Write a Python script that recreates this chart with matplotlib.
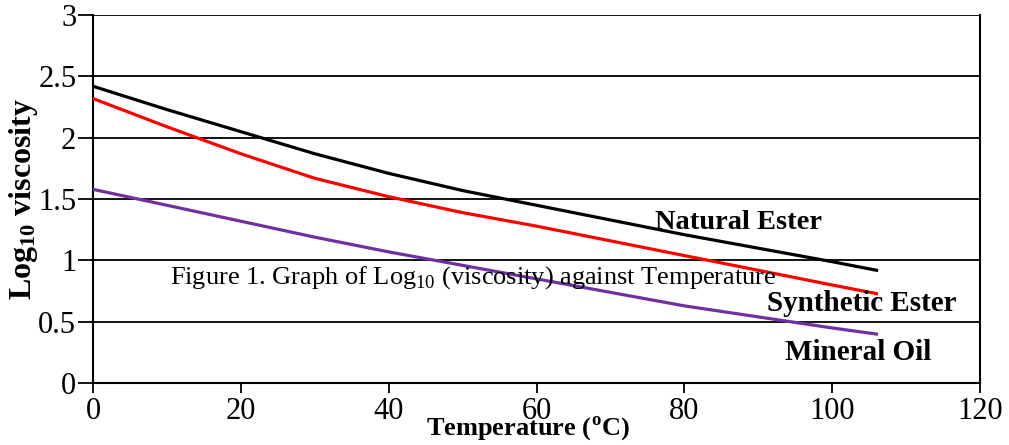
import matplotlib.pyplot as plt
import numpy as np

plt.rcParams['font.family'] = ['Liberation Serif', 'DejaVu Serif']
plt.rcParams['mathtext.fontset'] = 'custom'
plt.rcParams['mathtext.rm'] = 'Liberation Serif'
plt.rcParams['mathtext.bf'] = 'Liberation Serif:bold'

# Temperature points (deg C)
temp = [0, 10, 20, 30, 40, 50, 60, 70, 80, 90, 100, 106]

# log10 viscosity readings
natural_ester = [2.42, 2.23, 2.05, 1.87, 1.71, 1.57, 1.45, 1.33, 1.21, 1.10, 0.99, 0.92]
synthetic_ester = [2.32, 2.09, 1.87, 1.67, 1.52, 1.39, 1.28, 1.16, 1.04, 0.92, 0.80, 0.73]
mineral_oil = [1.58, 1.45, 1.32, 1.19, 1.07, 0.96, 0.85, 0.74, 0.63, 0.54, 0.45, 0.40]

x_ticks = [0, 20, 40, 60, 80, 100, 120]
y_ticks = [0, 0.5, 1, 1.5, 2, 2.5, 3]

fig = plt.figure(figsize=(10.09, 4.45), dpi=100)
ax = fig.add_axes([0.0922, 0.139, 0.8791, 0.827])

for yv in y_ticks[1:]:
    ax.axhline(yv, color='black', lw=1.3, zorder=1)

ax.plot(temp, natural_ester, color='black', lw=2.3, zorder=3)
ax.plot(temp, synthetic_ester, color='#ff0000', lw=2.3, zorder=3)
ax.plot(temp, mineral_oil, color='#7030a0', lw=2.3, zorder=3)

ax.text(76, 1.31, "Natural Ester", fontsize=20.5, fontweight='bold', va='center', ha='left')
ax.text(104, 0.65, "Synthetic Ester", fontsize=21, fontweight='bold', va='center', ha='center')
ax.text(103.5, 0.25, "Mineral Oil", fontsize=21, fontweight='bold', va='center', ha='center')
ax.text(10.4, 0.86, r"Figure 1. Graph of Log$_{\mathrm{10}}$ (viscosity) against Temperature",
        fontsize=19, va='center', ha='left')

ax.set_xlim(0, 120)
ax.set_ylim(0, 3)
ax.set_xticks(x_ticks)
ax.set_yticks(y_ticks)
ax.set_yticklabels(['0', '0.5', '1', '1.5', '2', '2.5', '3'])
ax.tick_params(axis='y', direction='out', length=11, width=1.3, labelsize=22, pad=1)
ax.tick_params(axis='x', direction='out', length=7, width=1.3, labelsize=22, pad=3)

for s in ['left', 'bottom', 'right']:
    ax.spines[s].set_linewidth(1.5)
ax.spines['top'].set_visible(False)

ax.set_xlabel(r"Temperature ($^{\mathbf{o}}$C)", fontsize=19, fontweight='bold', va='center')
ax.xaxis.set_label_coords(0.49, -0.122, transform=ax.transAxes)
ax.set_ylabel(r"$\mathbf{Log_{10}}$ viscosity", fontsize=23, fontweight='bold', va='center')
ax.yaxis.set_label_coords(24 / 1009, 1 - 199 / 445, transform=fig.transFigure)
fig.savefig('out.png', dpi=100)
